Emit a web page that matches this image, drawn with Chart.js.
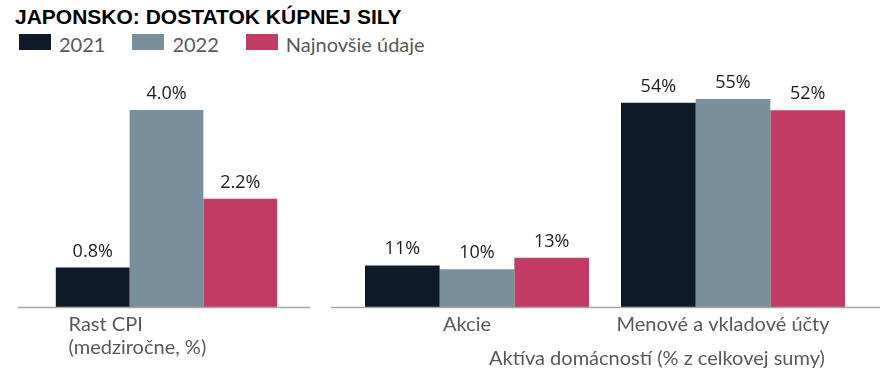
<!DOCTYPE html>
<html>
<head>
<meta charset="utf-8">
<script src="https://cdn.jsdelivr.net/npm/chart.js@4/dist/chart.umd.min.js"></script>
<style>
  body { margin: 0; width: 894px; height: 389px; position: relative; background: #fff; overflow: hidden; font-family: Lato, sans-serif; }
  #title { position: absolute; left: 15px; top: 6px; font: bold 21px/21px "Liberation Sans", Arial, sans-serif; color: #000; white-space: nowrap; }
  #legend { position: absolute; left: 19px; top: 34px; display: flex; }
  .item { display: flex; margin-right: 27px; }
  .sw { width: 32px; height: 16px; }
  .lbl { margin-left: 8px; font-size: 20px; line-height: 20px; color: #595959; white-space: nowrap; }
  #cpi { position: absolute; left: 18px; top: 60px; }
  #assets { position: absolute; left: 331px; top: 60px; }
  #assetsTitle { position: absolute; left: 489px; top: 346px; font-size: 20px; line-height: 23px; color: #595959; white-space: nowrap; }
</style>
</head>
<body>
<div id="title"></div>
<div id="legend"></div>
<canvas id="cpi" width="292" height="329"></canvas>
<canvas id="assets" width="549" height="329"></canvas>
<div id="assetsTitle"></div>
<script>
const chartTitle = 'JAPONSKO: DOSTATOK KÚPNEJ SILY';
const seriesNames = ['2021', '2022', 'Najnovšie údaje'];
const seriesColors = ['#0e1a29', '#7a8f9c', '#c23b65'];

// rast CPI
const cpiLabels = [['Rast CPI', '(medziročne, %)']];
const cpi2021 = [0.8];
const cpi2022 = [4.0];
const cpiLatest = [2.2];

// aktiva domacnosti
const assetLabels = ['Akcie', 'Menové a vkladové účty'];
const assets2021 = [11, 54];
const assets2022 = [10, 55];
const assetsLatest = [13, 52];
const assetsTitle = 'Aktíva domácností (% z celkovej sumy)';

document.querySelector('#title').textContent = chartTitle;
document.querySelector('#assetsTitle').textContent = assetsTitle;

const legend = document.querySelector('#legend');
seriesNames.forEach((name, i) => {
    const item = document.createElement('div');
    item.className = 'item';
    item.innerHTML = '<div class="sw" style="background:' + seriesColors[i] + '"></div><div class="lbl"></div>';
    item.querySelector('.lbl').textContent = name;
    legend.appendChild(item);
});

// value labels above bars + baseline across the canvas
const barValues = {
    id: 'barValues',
    afterDatasetsDraw(chart, args, opts) {
        const ctx = chart.ctx;
        ctx.save();
        ctx.font = '18px "Open Sans"';
        ctx.fillStyle = '#1c1c1c';
        ctx.textAlign = 'center';
        ctx.textBaseline = 'alphabetic';
        chart.data.datasets.forEach((ds, i) => {
            chart.getDatasetMeta(i).data.forEach((bar, j) => {
                ctx.fillText(opts.format(ds.data[j]), bar.x, bar.y - 11);
            });
        });
        const y0 = Math.round(chart.scales.y.getPixelForValue(0)) + 0.5;
        ctx.strokeStyle = '#a6a6a6';
        ctx.lineWidth = 1.3;
        ctx.beginPath();
        ctx.moveTo(0, y0);
        ctx.lineTo(chart.width, y0);
        ctx.stroke();
        ctx.restore();
    }
};

function makeDatasets(a, b, c) {
    return [a, b, c].map((d, i) => ({
        label: seriesNames[i],
        data: d,
        backgroundColor: seriesColors[i],
        categoryPercentage: 0.875,
        barPercentage: 1
    }));
}

function makeOptions(max, padding, ticks, fmt) {
    return {
        responsive: false,
        animation: false,
        layout: { padding: padding },
        plugins: {
            legend: { display: false },
            tooltip: { enabled: false },
            barValues: { format: fmt }
        },
        scales: {
            x: {
                grid: { display: false, drawTicks: false },
                border: { display: false },
                ticks: Object.assign({
                    color: '#595959',
                    font: { family: 'Lato', size: 20, lineHeight: 1.15 },
                    padding: 6,
                    maxRotation: 0,
                    autoSkip: false
                }, ticks),
                afterFit(scale) {
                    scale.height = 82;
                    scale.paddingLeft = 0;
                    scale.paddingRight = 0;
                }
            },
            y: { display: false, min: 0, max: max }
        }
    };
}

new Chart(document.querySelector('#cpi'), {
    type: 'bar',
    data: { labels: cpiLabels, datasets: makeDatasets(cpi2021, cpi2022, cpiLatest) },
    options: makeOptions(4.61, { left: 22, right: 17, top: 20, bottom: 0 },
        { align: 'start', labelOffset: -98 }, v => v.toFixed(1) + '%'),
    plugins: [barValues]
});

new Chart(document.querySelector('#assets'), {
    type: 'bar',
    data: { labels: assetLabels, datasets: makeDatasets(assets2021, assets2022, assetsLatest) },
    options: makeOptions(60, { left: 18, right: 19, top: 20, bottom: 0 },
        { labelOffset: -10 }, v => v + '%'),
    plugins: [barValues]
});
</script>
</body>
</html>
